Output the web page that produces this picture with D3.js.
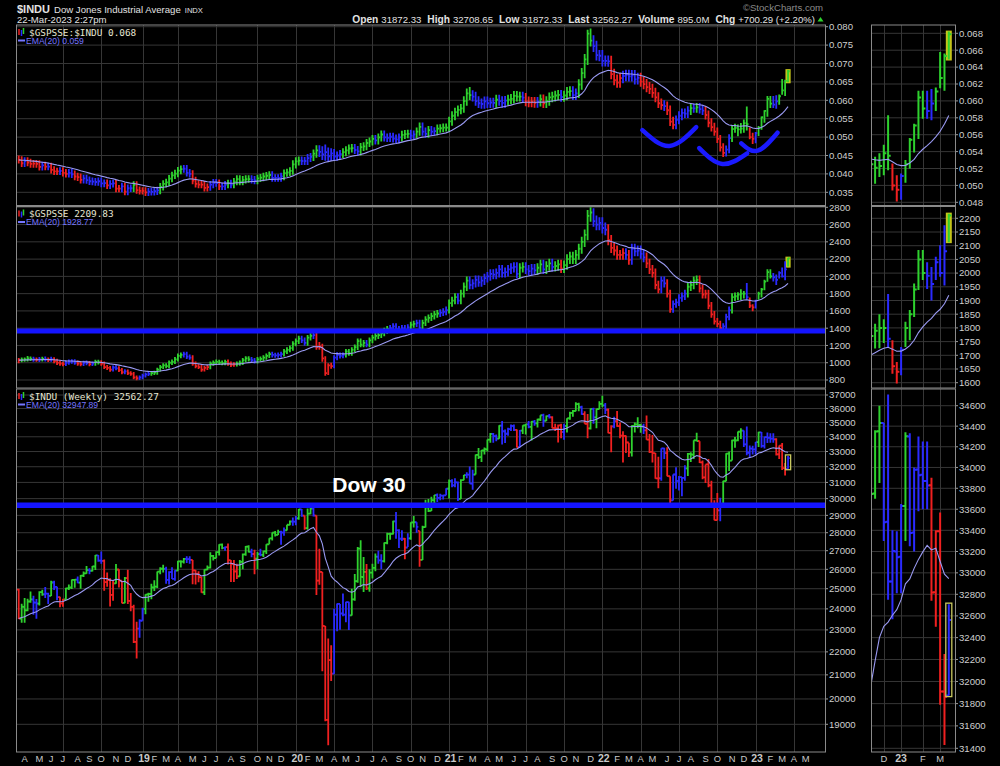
<!DOCTYPE html>
<html><head><meta charset="utf-8"><title>$INDU</title>
<script src="https://cdn.jsdelivr.net/npm/d3@7/dist/d3.min.js"></script>
<style>html,body{margin:0;padding:0;background:#000}svg{display:block}</style>
</head><body>
<svg id="chart" width="1000" height="766"></svg>
<script>
// ---------------- DATA (weekly bars, week of 19-Mar-2018 .. week of 20-Mar-2023) ----------------
const induOpen=[24950,23530,24100,23930,24360,24460,24310,24260,24830,24720,24750,24640,25320,25090,24580,24270,24460,25020,25060,25450,25460,25310,25670,25790,25960,25920,26150,26740,26460,26450,25340,25440,24690,25270,25990,25410,24290,25540,24390,24100,22450,
23060,23430,24000,24710,24740,25060,25110,25880,26030,26030,25450,25850,25500,25930,26420,26410,26560,26540,26500,25940,25760,25590,24820,25980,26090,26720,26600,26920,27330,27150,27190,26480,26290,25890,25630,26400,26800,27220,26930,26820,26570,26820,26770,26960,27350,27680,28000,27880,28050,28010,28140,28450,
28640,28630,28820,29350,28990,28260,29100,29400,28990,25410,25860,23180,19170,21640,21050,23720,24240,23780,23720,24330,23690,24470,25380,27110,25600,25870,25020,25830,26080,26670,26470,26430,27430,27930,27930,28650,28130,27660,27660,27170,27680,28590,28600,28100,26500,28320,29480,29260,29910,30220,30050,30180,30200,
30610,31100,30810,31000,29980,31150,31460,31490,30930,31500,32780,32630,33070,33150,33800,34200,34040,33870,34780,34380,34210,34530,34750,34480,33290,34430,34790,34870,34690,35060,34940,35210,35520,35120,35460,35370,34610,34590,34800,34330,34750,35300,35680,35820,36330,36100,35600,34900,34580,35970,35360,35950,
36340,36230,35910,34260,34720,35090,34740,34080,34060,33610,32940,34750,34860,34820,34720,34450,33810,32980,32900,31260,31260,33210,32900,31390,29890,31500,31100,31340,31290,31900,32850,32800,33760,33710,32280,31320,32150,30820,29590,28725,29300,29640,31080,32860,32400,33750,33750,34350,34430,33480,32920,33200,
33150,33630,34300,33380,33980,33930,33870,33830,32820,33390,31910,31872.33];
const induHigh=[25000,24250,24530,24500,24860,24640,24480,24870,24950,25090,24800,25400,25400,25100,24600,24500,25050,25210,25470,25480,25630,25700,25890,26170,26060,26170,26770,26770,26950,26520,25830,25540,25430,26280,26000,25410,25600,25980,24780,24200,23380,
23500,24060,24720,24790,25250,25430,25890,26110,26240,26140,25900,26110,25950,26460,26480,26600,26700,26700,26500,25970,25900,25600,26000,26200,26910,26760,26970,27360,27400,27230,27400,26500,26500,26300,26500,26840,27250,27300,27100,27050,26930,27100,27000,27350,27690,28010,28090,28170,28110,28290,28460,28700,
28870,28960,29370,29370,28980,29410,29570,29570,28990,27100,25860,23180,22600,22300,24000,24260,24240,24760,24350,24350,25000,25760,27200,27580,26650,26280,26000,26290,26840,27000,26800,27450,28000,28000,28680,29200,28200,28140,27700,27970,28600,28960,28600,28100,28400,29930,29970,30120,30220,30320,30300,30230,30640,
31190,31200,31270,31050,31200,31470,31640,32010,31800,32800,33230,33100,33270,33810,34260,34260,34150,34810,35100,34500,34630,34850,34850,34500,34470,34800,34900,35100,35100,35170,35260,35520,35630,35500,35600,35450,34900,34850,34900,34900,35300,35770,35900,36470,36430,36200,35800,35600,36000,36050,35980,36530,
36950,36400,36000,34800,35400,35820,34990,34380,34080,33600,34800,35000,35370,34900,34900,35500,34200,34120,32900,32650,33220,33250,33280,31390,31500,31960,31400,31340,32090,32900,32950,33770,34280,33700,32400,32150,32500,31100,29900,30350,30050,31100,32890,33000,33800,33990,34360,34600,34430,34710,33400,33390,
33650,34340,34330,34000,34300,34250,34250,33900,33400,33570,32250,32708.65];
const induLow=[23510,23340,23340,23880,24300,23720,23530,24170,24650,24530,24240,24630,24930,24420,24080,24100,24450,24930,24980,25050,25280,25000,25600,25770,25740,25880,25970,26400,26300,24900,25100,24120,24400,25250,25060,24270,24280,24240,23880,22400,21710,
22640,23430,23740,24350,24470,24880,25030,25740,25830,25250,25210,25490,25400,25920,26100,26310,26330,26300,25220,25210,25330,24800,24680,25950,26040,26470,26600,26740,27080,26990,26250,25340,25340,25500,25630,26000,26720,26900,26640,25740,26000,26700,26650,26820,27350,27560,27780,27870,27320,27830,28130,28420,
28400,28420,28740,28920,28170,28170,29060,28930,24680,25200,21150,19120,18210,20740,21050,22940,23010,23640,23360,23000,23680,24400,25300,25080,24840,24930,24850,25520,25900,26300,26000,26360,27350,27600,27900,27660,27150,27540,26540,27200,27600,28300,28000,26140,26500,28300,29200,29260,29560,29800,29900,29950,30200,
30000,30700,30700,29850,29980,31130,31270,30930,30550,31500,32500,32300,32800,33000,33600,33600,33700,33870,33470,33580,34070,34400,34400,33270,33270,34200,34150,34600,33740,34760,34640,35100,34690,35100,35290,34600,34400,33610,33900,33800,34300,35200,35400,35800,35800,35550,34900,33900,34500,34900,34600,35950,
36100,35600,34250,32950,34600,34700,33900,32270,32900,32630,32670,34300,34600,34280,34200,33800,32900,32270,31230,30640,31100,32500,31390,29650,29890,30600,30500,30140,31100,31400,32300,32500,33700,32250,31200,30970,30700,29570,28720,28720,28660,29630,31080,31730,32400,33250,33700,33850,33300,32750,32570,32810,
32810,33300,33250,33200,33580,33600,33600,32740,32500,31790,31430,31872.33];
const induClose=[23533,24103,23933,24360,24463,24311,24263,24831,24715,24753,24635,25317,25090,24581,24271,24456,25019,25058,25451,25463,25313,25669,25790,25965,25917,26155,26744,26458,26447,25340,25444,24688,25270,25989,25413,24286,25538,24389,24100,22445,23062,
23433,23996,24706,24737,25064,25106,25883,26031,26026,25450,25849,25502,25929,26425,26412,26559,26543,26505,25942,25764,25586,24815,25984,26090,26719,26600,26922,27332,27154,27192,26485,26287,25886,25629,26403,26797,27220,26935,26820,26573,26817,26770,26958,27347,27681,28005,27876,28051,28015,28135,28455,28645,
28634,28823,29348,28990,28256,29102,29398,28992,25409,25865,23186,19174,21637,21053,23719,24242,23775,23724,24331,23685,24465,25383,27111,25606,25871,25016,25827,26075,26672,26470,26428,27433,27931,27930,28654,28133,27666,27657,27174,27683,28586,28606,28336,26502,28323,29480,29263,29910,30218,30046,30179,30200,30606,
31098,30814,30997,29983,31148,31458,31494,30932,31496,32779,32628,33073,33153,33801,34200,34043,33875,34778,34382,34208,34529,34756,34480,33290,34433,34786,34870,34688,35062,34935,35209,35515,35120,35455,35369,34608,34585,34798,34326,34746,35295,35677,35820,36328,36100,35602,34899,34580,35971,35365,35950,36338,
36231,35912,34265,34725,35089,34738,34079,34059,33614,32944,34755,34861,34818,34721,34451,33811,32977,32899,31261,31262,33213,32900,31393,29888,31501,31097,31338,31288,31899,32845,32803,33761,33707,32283,31318,32151,30822,29590,28725,29297,29635,31083,32861,32403,33748,33746,34347,34430,33476,32920,33204,33147,
33631,34303,33375,33978,33926,33869,33827,32817,33391,31910,31862,32562.27];

const gspHigh=[1055,1060,1062,1078,1072,1068,1060,1066,1070,1072,1062,1068,1064,1045,1025,1012,1025,1036,1040,1040,1026,1014,1024,1025,1020,1015,1035,1034,1030,1014,974,962,968,970,958,938,924,922,902,892,852,
852,872,888,892,902,908,942,974,995,995,1025,1036,1066,1106,1118,1128,1126,1096,1086,1014,985,975,964,975,1015,1026,1036,1035,1026,1035,1036,1015,1005,1015,1026,1056,1076,1076,1066,1056,1066,1072,1086,1106,1128,1126,1116,1118,1128,1158,1178,1200,
1250,1282,1312,1312,1292,1322,1342,1354,1352,1240,1220,1075,995,1000,1088,1120,1118,1118,1160,1160,1180,1210,1282,1282,1262,1262,1292,1322,1344,1354,1374,1405,1425,1436,1456,1456,1425,1436,1436,1446,1476,1486,1497,1497,1497,1538,1558,1578,1600,1610,1620,1630,1650,
1732,1764,1805,1805,1846,1928,2000,2000,1968,2010,2010,2000,2030,2050,2082,2082,2092,2132,2132,2102,2132,2152,2164,2164,2152,2164,2164,2132,2142,2142,2152,2194,2194,2174,2204,2204,2174,2194,2194,2184,2256,2286,2286,2306,2378,2460,2542,2768,2800,2790,2706,2686,
2686,2624,2604,2480,2388,2358,2306,2326,2326,2306,2378,2378,2358,2358,2316,2276,2204,2132,2092,1948,2000,2000,1968,1846,1722,1742,1794,1814,1846,1928,1948,2000,2010,2010,1906,1846,1846,1702,1600,1518,1486,1456,1568,1650,1804,1814,1815,1850,1832,1924,1755,1676,
1730,1822,1865,1962,2084,2084,2040,2022,2060,2102,2175,2217];
const gspLow=[995,1005,1012,1015,1020,1012,1010,1008,1015,1014,1008,1010,995,975,965,960,962,978,988,976,965,958,962,970,960,962,966,980,965,926,915,896,898,912,892,866,868,858,848,810,798,
800,810,830,845,850,858,862,898,926,936,936,975,985,1015,1052,1062,1044,1034,966,935,926,896,898,915,925,965,975,975,970,970,965,950,952,955,965,975,1005,1015,1005,990,990,1015,1020,1034,1054,1062,1058,1058,1062,1072,1102,1120,
1140,1190,1218,1228,1198,1198,1256,1276,1150,1150,1010,850,858,930,935,1030,1050,1052,1060,1080,1080,1118,1148,1178,1178,1178,1178,1226,1256,1276,1286,1306,1335,1355,1364,1355,1345,1345,1345,1345,1374,1404,1414,1364,1364,1424,1462,1482,1502,1522,1530,1540,1550,
1570,1648,1676,1676,1676,1754,1832,1852,1852,1872,1880,1880,1900,1930,1950,1968,1968,1988,1988,1988,1998,2028,2046,1978,1978,2046,2028,2008,2008,2018,2018,2046,2028,2028,2066,2056,2056,2066,2038,2038,2076,2144,2144,2144,2194,2262,2340,2418,2632,2574,2534,2534,
2496,2476,2360,2272,2242,2194,2194,2194,2194,2136,2136,2232,2232,2204,2164,2096,2028,1988,1852,1804,1804,1872,1754,1580,1580,1638,1658,1706,1726,1754,1832,1852,1900,1814,1745,1745,1618,1520,1444,1414,1365,1380,1385,1492,1570,1716,1725,1726,1745,1730,1633,1597,
1627,1730,1755,1840,1938,1975,1942,1900,1975,1987,1955,2113];
const gspClose=[1030,1035,1040,1050,1045,1040,1035,1040,1045,1040,1035,1040,1020,1000,990,985,1000,1010,1015,1000,990,985,1000,995,985,990,1010,1005,990,950,940,920,945,935,915,890,900,880,870,830,820,
830,850,865,870,880,885,920,950,970,960,1000,1010,1040,1080,1090,1100,1070,1060,990,960,950,920,940,950,990,1000,1010,1000,995,1010,990,975,980,990,1000,1030,1050,1040,1030,1015,1040,1045,1060,1080,1100,1090,1085,1090,1100,1130,1150,1170,
1220,1250,1280,1260,1230,1290,1310,1320,1180,1190,1050,880,970,960,1060,1090,1080,1090,1130,1110,1150,1180,1250,1210,1230,1210,1260,1290,1310,1320,1340,1370,1390,1400,1420,1390,1380,1400,1380,1410,1440,1450,1460,1400,1460,1500,1520,1540,1560,1570,1580,1590,1610,
1690,1720,1760,1720,1800,1880,1950,1900,1920,1960,1930,1950,1980,2000,2030,2020,2040,2080,2040,2050,2080,2100,2110,2030,2100,2110,2080,2060,2090,2070,2100,2140,2080,2120,2150,2110,2120,2140,2090,2130,2200,2230,2200,2250,2320,2400,2480,2700,2740,2640,2600,2620,
2560,2540,2420,2330,2300,2250,2250,2270,2250,2190,2320,2290,2300,2260,2220,2150,2080,2040,1900,1850,1950,1920,1800,1620,1680,1700,1750,1770,1800,1880,1900,1950,1960,1860,1790,1800,1660,1560,1480,1450,1400,1420,1530,1610,1760,1770,1790,1800,1800,1760,1660,1640,
1720,1800,1850,1940,2050,2000,1990,1960,2040,2000,2080,2209.83];

const ratioHigh=[.0450,.0448,.0445,.0445,.0441,.0438,.0438,.0437,.0433,.0433,.0430,.0430,.0421,.0417,.0418,.0418,.0413,.0413,.0413,.0409,.0403,.0401,.0398,.0398,.0393,.0390,.0389,.0390,.0390,.0385,.0385,.0383,.0384,.0384,.0370,.0376,.0376,.0371,.0371,.0380,.0380,
.0366,.0364,.0364,.0362,.0362,.0363,.0365,.0375,.0383,.0387,.0397,.0406,.0411,.0419,.0423,.0424,.0424,.0413,.0410,.0392,.0383,.0381,.0381,.0374,.0381,.0386,.0386,.0385,.0376,.0381,.0384,.0384,.0389,.0396,.0396,.0394,.0396,.0396,.0396,.0394,.0398,.0400,.0403,.0405,.0407,.0407,.0399,.0399,.0403,.0412,.0414,.0418,
.0437,.0445,.0447,.0447,.0446,.0454,.0457,.0466,.0478,.0478,.0475,.0480,.0472,.0470,.0468,.0461,.0465,.0470,.0475,.0480,.0481,.0481,.0476,.0484,.0486,.0495,.0499,.0506,.0506,.0510,.0518,.0518,.0510,.0512,.0512,.0507,.0510,.0517,.0519,.0520,.0520,.0518,.0526,.0540,.0540,.0526,.0530,.0530,.0527,.0534,.0535,.0537,.0537,
.0555,.0570,.0580,.0586,.0590,.0611,.0632,.0636,.0627,.0623,.0611,.0605,.0610,.0610,.0607,.0607,.0615,.0615,.0611,.0612,.0615,.0617,.0625,.0625,.0623,.0623,.0620,.0610,.0609,.0609,.0609,.0616,.0616,.0611,.0621,.0623,.0626,.0628,.0628,.0626,.0636,.0638,.0638,.0632,.0657,.0688,.0726,.0792,.0795,.0777,.0762,.0737,
.0737,.0722,.0722,.0721,.0686,.0670,.0674,.0680,.0683,.0683,.0682,.0682,.0675,.0675,.0665,.0658,.0650,.0645,.0634,.0622,.0605,.0600,.0597,.0586,.0555,.0559,.0570,.0578,.0578,.0584,.0591,.0591,.0593,.0593,.0588,.0584,.0572,.0551,.0539,.0526,.0506,.0483,.0477,.0508,.0533,.0536,.0534,.0538,.0548,.0583,.0526,.0512,
.0514,.0530,.0556,.0573,.0612,.0612,.0612,.0614,.0616,.0658,.0656,.0682];
const ratioLow=[.0428,.0419,.0419,.0421,.0417,.0417,.0417,.0409,.0409,.0410,.0410,.0401,.0397,.0397,.0397,.0393,.0390,.0390,.0389,.0383,.0381,.0374,.0374,.0373,.0370,.0369,.0368,.0368,.0364,.0364,.0359,.0359,.0363,.0350,.0350,.0350,.0342,.0342,.0351,.0351,.0346,
.0344,.0344,.0340,.0340,.0341,.0341,.0343,.0345,.0355,.0363,.0367,.0377,.0386,.0391,.0399,.0403,.0393,.0390,.0372,.0363,.0361,.0361,.0352,.0352,.0354,.0361,.0365,.0356,.0356,.0356,.0361,.0361,.0361,.0369,.0369,.0369,.0374,.0376,.0374,.0372,.0372,.0378,.0380,.0383,.0385,.0379,.0379,.0379,.0379,.0383,.0392,.0394,
.0398,.0415,.0423,.0424,.0424,.0424,.0432,.0435,.0444,.0446,.0438,.0436,.0432,.0436,.0436,.0436,.0439,.0443,.0448,.0453,.0458,.0454,.0450,.0450,.0462,.0464,.0473,.0477,.0480,.0480,.0488,.0488,.0487,.0487,.0485,.0483,.0483,.0488,.0495,.0497,.0493,.0493,.0496,.0504,.0504,.0498,.0498,.0504,.0504,.0505,.0512,.0513,.0515,
.0514,.0531,.0546,.0556,.0562,.0566,.0585,.0601,.0597,.0585,.0579,.0577,.0577,.0579,.0579,.0580,.0580,.0585,.0580,.0580,.0586,.0589,.0591,.0597,.0597,.0594,.0584,.0581,.0581,.0580,.0580,.0583,.0579,.0579,.0585,.0595,.0597,.0600,.0596,.0596,.0600,.0610,.0601,.0601,.0606,.0629,.0660,.0696,.0746,.0731,.0708,.0706,
.0692,.0692,.0691,.0657,.0641,.0634,.0634,.0646,.0652,.0651,.0651,.0643,.0643,.0637,.0630,.0622,.0617,.0607,.0595,.0579,.0574,.0571,.0560,.0530,.0521,.0521,.0535,.0546,.0552,.0552,.0560,.0566,.0566,.0564,.0560,.0548,.0527,.0515,.0504,.0484,.0461,.0446,.0447,.0456,.0487,.0512,.0502,.0510,.0512,.0518,.0494,.0481,
.0483,.0503,.0520,.0539,.0555,.0579,.0579,.0577,.0588,.0615,.0612,.0649];
const ratioClose=[.0438,.0429,.0435,.0431,.0427,.0428,.0427,.0419,.0423,.0420,.0420,.0411,.0407,.0407,.0408,.0403,.0400,.0403,.0399,.0393,.0391,.0384,.0388,.0383,.0380,.0379,.0378,.0380,.0374,.0375,.0369,.0373,.0374,.0360,.0360,.0366,.0352,.0361,.0361,.0370,.0356,
.0354,.0354,.0350,.0352,.0351,.0353,.0355,.0365,.0373,.0377,.0387,.0396,.0401,.0409,.0413,.0414,.0403,.0400,.0382,.0373,.0371,.0371,.0362,.0364,.0371,.0376,.0375,.0366,.0366,.0371,.0374,.0371,.0379,.0386,.0379,.0384,.0386,.0386,.0384,.0382,.0388,.0390,.0393,.0395,.0397,.0389,.0389,.0389,.0393,.0402,.0404,.0408,
.0426,.0434,.0436,.0435,.0435,.0443,.0446,.0455,.0464,.0460,.0453,.0459,.0448,.0456,.0447,.0450,.0454,.0459,.0464,.0469,.0470,.0465,.0461,.0473,.0475,.0484,.0488,.0495,.0491,.0499,.0507,.0499,.0498,.0501,.0496,.0494,.0499,.0506,.0508,.0509,.0504,.0507,.0515,.0528,.0515,.0509,.0519,.0515,.0516,.0523,.0524,.0526,.0526,
.0543,.0558,.0568,.0574,.0578,.0598,.0619,.0614,.0610,.0598,.0592,.0590,.0597,.0592,.0594,.0593,.0602,.0598,.0593,.0599,.0602,.0604,.0612,.0610,.0610,.0607,.0597,.0594,.0596,.0593,.0596,.0603,.0592,.0598,.0608,.0610,.0613,.0615,.0609,.0613,.0623,.0625,.0614,.0619,.0643,.0674,.0711,.0781,.0762,.0747,.0723,.0721,
.0707,.0707,.0706,.0671,.0655,.0648,.0660,.0666,.0669,.0665,.0668,.0657,.0661,.0651,.0644,.0636,.0631,.0620,.0608,.0592,.0587,.0584,.0573,.0542,.0533,.0547,.0558,.0566,.0564,.0572,.0579,.0578,.0581,.0576,.0572,.0560,.0539,.0527,.0515,.0495,.0472,.0457,.0466,.0497,.0522,.0525,.0521,.0523,.0538,.0535,.0500,.0495,
.0511,.0525,.0554,.0571,.0604,.0591,.0588,.0597,.0611,.0627,.0653,.0679];

// axis tick labels
const ratioTicks=[0.035,0.040,0.045,0.050,0.055,0.060,0.065,0.070,0.075,0.080];
const gspTicks=[800,1000,1200,1400,1600,1800,2000,2200,2400,2600,2800];
const induTicks=[19000,20000,21000,22000,23000,24000,25000,26000,27000,28000,29000,30000,31000,32000,33000,34000,35000,36000,37000];
const ratioMiniTicks=[0.048,0.050,0.052,0.054,0.056,0.058,0.060,0.062,0.064,0.066,0.068];
const gspMiniTicks=[1600,1650,1700,1750,1800,1850,1900,1950,2000,2050,2100,2150,2200];
const induMiniTicks=[31400,31600,31800,32000,32200,32400,32600,32800,33000,33200,33400,33600,33800,34000,34200,34400,34600];
const monthLetters=["J","F","M","A","M","J","J","A","S","O","N","D"];

// annotations
const gspSupport=1367;
const induSupport=29600;
const ratioArcs=[
  [[new Date(2022,3,8),0.0519],[new Date(2022,5,11),0.0476],[new Date(2022,7,14),0.0527]],
  [[new Date(2022,7,21),0.0470],[new Date(2022,9,15),0.0427],[new Date(2022,11,13),0.0456]],
  [[new Date(2022,10,29),0.0483],[new Date(2023,0,7),0.0463],[new Date(2023,1,23),0.0512]]
];

// ---------------- DRAWING ----------------
const svg=d3.select('#chart');
svg.append('rect').attr('width',1000).attr('height',766).attr('fill','#000');
const defs=svg.append('defs');
const SANS='"Liberation Sans", Arial, Helvetica, sans-serif';
const MONO='"DejaVu Sans Mono", "Liberation Mono", monospace';
const COL={green:'#2ed12e',red:'#f02020',blue:'#2a2aff'};
const GRID='#363636', BORDER='#8a8a8a', AXIS_TXT='#cfcfcf', EMA_COL='#9a9af2';

const weeks=d3.timeMonday.range(new Date(2018,2,19),new Date(2023,2,21));
const N=Math.min(weeks.length,induClose.length,gspClose.length,ratioClose.length);

function ema(vals,n){const k=2/(n+1);const out=[];let e=vals[0];for(let i=0;i<vals.length;i++){e=i?vals[i]*k+e*(1-k):vals[i];out.push(e);}return out;}
function impulse(close){
  const e13=ema(close,13),e12=ema(close,12),e26=ema(close,26);
  const macd=e12.map((v,i)=>v-e26[i]);const sig=ema(macd,9);const hist=macd.map((v,i)=>v-sig[i]);
  return close.map((c,i)=>{ if(i===0) return COL.red;
    const up=e13[i]>e13[i-1], hu=hist[i]>hist[i-1];
    if(up&&hu) return COL.green; if(!up&&!hu) return COL.red; return COL.blue;});
}
function mk(o,h,l,c){const col=impulse(c.slice(0,N));const e=ema(c.slice(0,N),20);
  return d3.range(N).map(i=>({date:weeks[i],o:o?o[i]:null,h:h[i],l:l[i],c:c[i],col:col[i],ema:e[i]}));}

const dRatio=mk(null,ratioHigh,ratioLow,ratioClose);
const dGsp=mk(null,gspHigh,gspLow,gspClose);
const dIndu=mk(induOpen,induHigh,induLow,induClose);

const xMain=d3.scaleTime().domain([new Date(2019,0,1),new Date(2023,0,1)]).range([140,755.2]);
const xMini=d3.scaleTime().domain([new Date(2022,10,16),new Date(2023,2,30)]).range([872,955]);
const ML=17, MR=825, NL=872, NR=955;

const panels=[
  {top:25,bottom:205.5,data:dRatio,
   y:d3.scaleLinear().domain([0.035,0.080]).range([192.3,26.7]),ticks:ratioTicks,
   ym:d3.scaleLinear().domain([0.048,0.068]).range([202.3,33.3]),mticks:ratioMiniTicks,
   fmt:d3.format('.3f'),hl:'fill',legend:'$GSPSSE:$INDU 0.068',ema:'EMA(20) 0.059'},
  {top:206.5,bottom:388,data:dGsp,
   y:d3.scaleLinear().domain([800,2800]).range([380,207.3]),ticks:gspTicks,
   ym:d3.scaleLinear().domain([1600,2200]).range([382.7,218.3]),mticks:gspMiniTicks,
   fmt:d3.format('d'),hl:'fill',legend:'$GSPSSE 2209.83',ema:'EMA(20) 1928.77'},
  {top:389,bottom:752,data:dIndu,
   y:d3.scaleLog().domain([19000,37000]).range([724.3,395]),ticks:induTicks,
   ym:d3.scaleLog().domain([31400,34600]).range([748.3,405.7]),mticks:induMiniTicks,
   fmt:d3.format('d'),hl:'stroke',legend:'$INDU (Weekly) 32562.27',ema:'EMA(20) 32947.89'}
];

function firstBar(y,m){return d3.timeMonday.ceil(new Date(y,m,1));}
const mainMonths=[];for(let y=2018;y<=2023;y++){for(let m=0;m<12;m++){const d=new Date(y,m,1);if(d>=new Date(2018,3,1)&&d<=new Date(2023,4,1))mainMonths.push({y,m,bar:firstBar(y,m)});}}
const miniMonths=[{y:2022,m:11},{y:2023,m:0},{y:2023,m:1},{y:2023,m:2}].map(o=>({...o,bar:firstBar(o.y,o.m)}));

let clipN=0;
function drawPanel(p,x,y,L,R,ticks,vMonths,labelX,mini){
  const top=p.top,bot=p.bottom;
  const id='clip'+(clipN++);
  defs.append('clipPath').attr('id',id).append('rect').attr('x',L).attr('y',top).attr('width',R-L).attr('height',bot-top);
  const g=svg.append('g');
  g.selectAll(null).data(ticks).join('line')
    .attr('x1',L).attr('x2',R).attr('y1',d=>y(d)).attr('y2',d=>y(d))
    .attr('stroke',GRID).attr('stroke-width',1);
  g.selectAll(null).data(vMonths).join('line')
    .attr('x1',d=>Math.round(x(d.bar))+0.5).attr('x2',d=>Math.round(x(d.bar))+0.5).attr('y1',top).attr('y2',bot)
    .attr('stroke',GRID).attr('stroke-width',1);
  g.selectAll(null).data(ticks).join('line')
    .attr('x1',R).attr('x2',R+3).attr('y1',d=>y(d)).attr('y2',d=>y(d)).attr('stroke','#9a9a9a');
  g.selectAll(null).data(ticks).join('text')
    .attr('x',labelX).attr('y',d=>y(d)).attr('dy','0.35em')
    .attr('font-family',SANS).attr('font-size',9.6).attr('fill',AXIS_TXT).text(d=>p.fmt(d));

  const cg=svg.append('g').attr('clip-path',`url(#${id})`);
  const data=p.data;
  const last=data[data.length-1];
  const hw=mini?3:2.6;
  if(p.hl==='fill'){
    cg.append('rect').attr('x',x(last.date)-hw).attr('width',hw*2)
      .attr('y',y(last.h)-1).attr('height',y(last.l)-y(last.h)+2).attr('fill','#c4c41a');
  }
  const tk=mini?2.6:1.7;
  cg.selectAll(null).data(data).join('path')
    .attr('d',d=>{const xx=x(d.date);let s=`M${xx},${y(d.h)}V${y(d.l)}M${xx},${y(d.c)}H${xx+tk}`;
      if(d.o!=null) s+=`M${xx-tk},${y(d.o)}H${xx}`; return s;})
    .attr('stroke',d=>d.col).attr('stroke-width',mini?2:1.8).attr('fill','none');
  if(p.hl==='stroke'){
    cg.append('rect').attr('x',x(last.date)-hw).attr('width',hw*2)
      .attr('y',y(last.h)-1).attr('height',y(last.l)-y(last.h)+2).attr('fill','none')
      .attr('stroke','#c8c860').attr('stroke-width',1.3);
  }
  cg.append('path').datum(data).attr('fill','none').attr('stroke',EMA_COL).attr('stroke-width',1.1)
    .attr('d',d3.line().x(d=>x(d.date)).y(d=>y(d.ema)));
  svg.append('rect').attr('x',L-0.5).attr('y',top).attr('width',R-L+1).attr('height',bot-top)
    .attr('fill','none').attr('stroke',BORDER).attr('stroke-width',1);
  return cg;
}

const mainGroups=[];
panels.forEach(p=>{
  const qMonths=mainMonths.filter(d=>d.m%3===0 && !(d.y===2018&&d.m===3));
  mainGroups.push(drawPanel(p,xMain,p.y,ML,MR,p.ticks,qMonths,829,false));
  drawPanel(p,xMini,p.ym,NL,NR,p.mticks,miniMonths,959,true);
  const lg=svg.append('g');
  const t=p.top;
  lg.append('line').attr('x1',19).attr('x2',19).attr('y1',t+4).attr('y2',t+10).attr('stroke',COL.red).attr('stroke-width',1.5);
  lg.append('line').attr('x1',21.5).attr('x2',21.5).attr('y1',t+5).attr('y2',t+11).attr('stroke',COL.blue).attr('stroke-width',1.5);
  lg.append('line').attr('x1',23.5).attr('x2',23.5).attr('y1',t+3).attr('y2',t+9).attr('stroke',COL.green).attr('stroke-width',1.5);
  lg.append('text').attr('x',29).attr('y',t+10.5).attr('font-family',MONO).attr('font-size',9.4)
    .attr('fill','#e6e6d2').text(p.legend);
  lg.append('line').attr('x1',18).attr('x2',25).attr('y1',t+15.5).attr('y2',t+15.5).attr('stroke','#7676ff').attr('stroke-width',2);
  lg.append('text').attr('x',26).attr('y',t+18.5).attr('font-family',SANS).attr('font-size',8.6)
    .attr('fill','#7676ff').text(p.ema);
});

mainGroups[1].append('line').attr('x1',ML).attr('x2',MR).attr('y1',panels[1].y(gspSupport)).attr('y2',panels[1].y(gspSupport))
  .attr('stroke','#1414ff').attr('stroke-width',5);
mainGroups[2].append('line').attr('x1',ML).attr('x2',MR).attr('y1',panels[2].y(induSupport)).attr('y2',panels[2].y(induSupport))
  .attr('stroke','#1414ff').attr('stroke-width',5.5);
ratioArcs.forEach(a=>{
  mainGroups[0].append('path').attr('fill','none').attr('stroke','#1a1aff').attr('stroke-width',4.5).attr('stroke-linecap','round')
    .attr('d',d3.line().curve(d3.curveNatural).x(d=>xMain(d[0])).y(d=>panels[0].y(d[1]))(a));
});

svg.append('text').attr('x',369).attr('y',492).attr('text-anchor','middle').attr('font-family',SANS)
  .attr('font-weight','bold').attr('font-size',21).attr('fill','#ffffff').text('Dow 30');

const bl=svg.append('g').attr('font-family',SANS).attr('font-size',9.4).attr('fill','#c8c8c8').attr('text-anchor','middle');
mainMonths.forEach(d=>{
  const isY=d.m===0;
  bl.append('text').attr('x',xMain(d.bar)+(isY?1.5:0)).attr('y',762).attr('font-weight',isY?'bold':'normal')
    .attr('font-size',isY?10.5:9.4).text(isY?String(d.y).slice(2):monthLetters[d.m]);
});
miniMonths.forEach(d=>{
  const isY=d.m===0;
  bl.append('text').attr('x',xMini(d.bar)).attr('y',762).attr('font-weight',isY?'bold':'normal')
    .attr('font-size',isY?10.5:9.4).text(isY?String(d.y).slice(2):monthLetters[d.m]);
});

const hd=svg.append('g').attr('font-family',SANS);
const t1=hd.append('text').attr('x',17).attr('y',12.5).attr('fill','#e2e2e2');
t1.append('tspan').attr('font-weight','bold').attr('font-size',11).text('$INDU');
t1.append('tspan').attr('font-size',9.6).attr('dx',4).text('Dow Jones Industrial Average');
t1.append('tspan').attr('font-size',7.6).attr('dx',4).text('INDX');
hd.append('text').attr('x',17).attr('y',23).attr('font-size',9.6).attr('fill','#e2e2e2').text('22-Mar-2023 2:27pm');
hd.append('text').attr('x',823).attr('y',11).attr('text-anchor','end').attr('font-size',9.6).attr('fill','#8a8a8a').text('\u00A9StockCharts.com');
const t2=hd.append('text').attr('x',815).attr('y',23).attr('text-anchor','end').attr('font-size',9.6).attr('fill','#e2e2e2');
[['Open','31872.33'],['High','32708.65'],['Low','31872.33'],['Last','32562.27'],['Volume','895.0M'],['Chg','+700.29 (+2.20%)']].forEach((p,i)=>{
  t2.append('tspan').attr('font-weight','bold').attr('font-size',10.2).attr('dx',i?6:0).text(p[0]);
  t2.append('tspan').attr('dx',3).text(p[1]);
});
hd.append('path').attr('d','M817.5,21.5 L820.5,17 L823.5,21.5 Z').attr('fill','#2ed12e');
</script>
</body></html>
